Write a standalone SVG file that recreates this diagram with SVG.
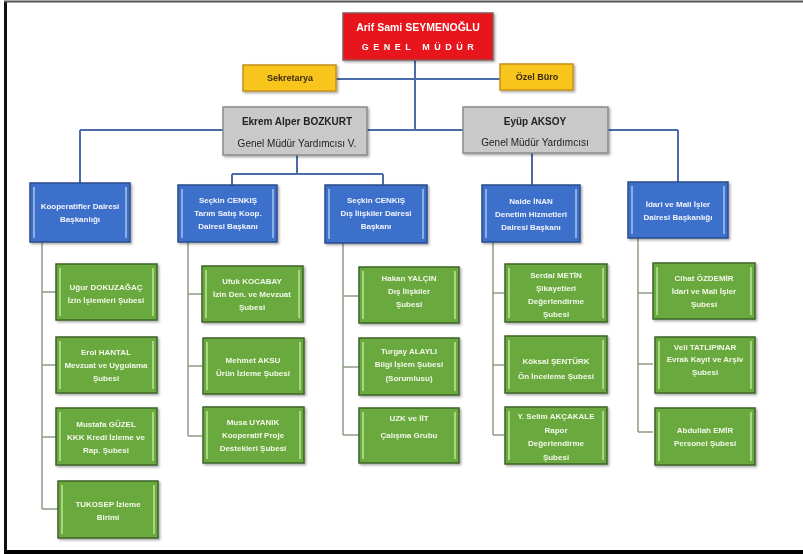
<svg xmlns="http://www.w3.org/2000/svg" width="803" height="554" viewBox="0 0 803 554">
<style>
text{font-family:"Liberation Sans",Arial,sans-serif;text-anchor:middle;dominant-baseline:central}
.g rect.b{fill:#69a93c;stroke:#3f6329;stroke-width:1.5}
.g line{stroke:#bfe69a;stroke-width:1.5}
.g text{fill:#f3f8ea;font-size:8px;font-weight:bold}
.bl rect.b{fill:#3e6fcb;stroke:#2b4d8c;stroke-width:1.5}
.bl line{stroke:#a9c3ee;stroke-width:1.5}
.bl text{fill:#f2f5fb;font-size:8px;font-weight:bold}
.y rect{fill:#f7c51c;stroke:#c8901a;stroke-width:1.5}
.y text{fill:#3a2a10;font-size:9px;font-weight:bold}
.gr rect{fill:#c9c9c9;stroke:#8a8a8a;stroke-width:1.5}
.gr text{fill:#222;font-size:10px}
.top{stroke:#4a6cab;stroke-width:2;fill:none}
.sub{stroke:#8f9c84;stroke-width:1.5;fill:none}
</style>
<defs>
<filter id="sh" x="-10%" y="-10%" width="130%" height="130%">
<feDropShadow dx="1.5" dy="1.5" stdDeviation="1" flood-color="#000" flood-opacity="0.35"/>
</filter>
</defs>
<rect x="0" y="0" width="803" height="554" fill="#fff"/>
<line x1="5.5" y1="1" x2="5.5" y2="554" stroke="#111" stroke-width="3"/>
<line x1="4" y1="1.5" x2="803" y2="1.5" stroke="#555" stroke-width="2"/>
<line x1="4" y1="552" x2="803" y2="552" stroke="#000" stroke-width="4"/>

<g id="connectors">
<path class="top" d="M415 60V130M336 79H500M80 130H678M80 130V183M678 130V182M297 155V174M232 174H383M232 174V185M383 174V185M532 153V185"/>
<path class="sub" d="M42 242V509M42 292H56M42 365H56M42 437H56M42 509H58"/>
<path class="sub" d="M188 242V436M188 294H202M188 366H202M188 436H202"/>
<path class="sub" d="M343 243V435M343 296H359M343 367H359M343 435H359"/>
<path class="sub" d="M493 242V435M493 293H505M493 365H505M493 435H505"/>
<path class="sub" d="M638 238V432M638 293H653M638 364H653M638 432H653"/>
</g>

<g id="genel-mudur" filter="url(#sh)">
<rect x="343" y="13" width="150" height="47" fill="#e8121a" stroke="#8a5a5a" stroke-width="1.5"/>
<text x="418" y="27" fill="#fff" font-size="10.5" font-weight="bold">Arif Sami SEYMENOĞLU</text>
<text x="420" y="47" fill="#fff" font-size="9" font-weight="bold" letter-spacing="4.5">GENEL MÜDÜR</text>
</g>
<g id="sekretarya" class="y" filter="url(#sh)">
<rect x="243" y="65" width="93" height="26"/>
<text x="290" y="78">Sekretarya</text>
</g>
<g id="ozel-buro" class="y" filter="url(#sh)">
<rect x="500" y="64" width="73" height="26"/>
<text x="537" y="77">Özel Büro</text>
</g>
<g id="ekrem" class="gr" filter="url(#sh)">
<rect x="223" y="107" width="144" height="48"/>
<text x="297" y="121" font-weight="bold">Ekrem Alper BOZKURT</text>
<text x="297" y="143">Genel Müdür Yardımcısı V.</text>
</g>
<g id="eyup" class="gr" filter="url(#sh)">
<rect x="463" y="107" width="145" height="46"/>
<text x="535" y="121" font-weight="bold">Eyüp AKSOY</text>
<text x="535" y="142">Genel Müdür Yardımcısı</text>
</g>

<g id="kooperatifler" class="bl" filter="url(#sh)">
<rect class="b" x="30" y="183" width="100" height="59"/>
<line x1="34" y1="187" x2="34" y2="238"/><line x1="126" y1="187" x2="126" y2="238"/>
<text x="80" y="206">Kooperatifler Dairesi</text>
<text x="80" y="219">Başkanlığı</text>
</g>
<g id="tarim-satis" class="bl" filter="url(#sh)">
<rect class="b" x="178" y="185" width="99" height="57"/>
<line x1="182" y1="189" x2="182" y2="238"/><line x1="273" y1="189" x2="273" y2="238"/>
<text x="228" y="200">Seçkin CENKIŞ</text>
<text x="228" y="213">Tarım Satış Koop.</text>
<text x="228" y="226">Dairesi Başkanı</text>
</g>
<g id="dis-iliskiler" class="bl" filter="url(#sh)">
<rect class="b" x="325" y="185" width="102" height="58"/>
<line x1="329" y1="189" x2="329" y2="239"/><line x1="423" y1="189" x2="423" y2="239"/>
<text x="376" y="200">Seçkin CENKIŞ</text>
<text x="376" y="213">Dış İlişkiler  Dairesi</text>
<text x="376" y="226">Başkanı</text>
</g>
<g id="denetim" class="bl" filter="url(#sh)">
<rect class="b" x="482" y="185" width="98" height="57"/>
<line x1="486" y1="189" x2="486" y2="238"/><line x1="576" y1="189" x2="576" y2="238"/>
<text x="531" y="201">Naide İNAN</text>
<text x="531" y="214">Denetim Hizmetleri</text>
<text x="531" y="227">Dairesi Başkanı</text>
</g>
<g id="idari-mali" class="bl" filter="url(#sh)">
<rect class="b" x="628" y="182" width="100" height="56"/>
<line x1="632" y1="186" x2="632" y2="234"/><line x1="724" y1="186" x2="724" y2="234"/>
<text x="678" y="204">İdari ve Mali İşler</text>
<text x="678" y="217">Dairesi Başkanlığı</text>
</g>

<g id="c1-izin" class="g" filter="url(#sh)">
<rect class="b" x="56" y="264" width="101" height="56"/>
<line x1="60" y1="268" x2="60" y2="316"/><line x1="153" y1="268" x2="153" y2="316"/>
<text x="106" y="287">Uğur DOKUZAĞAÇ</text>
<text x="106" y="300">İzin İşlemleri Şubesi</text>
</g>
<g id="c1-mevzuat" class="g" filter="url(#sh)">
<rect class="b" x="56" y="337" width="101" height="56"/>
<line x1="60" y1="341" x2="60" y2="389"/><line x1="153" y1="341" x2="153" y2="389"/>
<text x="106" y="352">Erol HANTAL</text>
<text x="106" y="365">Mevzuat ve Uygulama</text>
<text x="106" y="378">Şubesi</text>
</g>
<g id="c1-kkk" class="g" filter="url(#sh)">
<rect class="b" x="56" y="408" width="101" height="57"/>
<line x1="60" y1="412" x2="60" y2="461"/><line x1="153" y1="412" x2="153" y2="461"/>
<text x="106" y="424">Mustafa GÜZEL</text>
<text x="106" y="437">KKK Kredi İzleme ve</text>
<text x="106" y="450">Rap. Şubesi</text>
</g>
<g id="c1-tukosep" class="g" filter="url(#sh)">
<rect class="b" x="58" y="481" width="100" height="57"/>
<line x1="62" y1="485" x2="62" y2="534"/><line x1="154" y1="485" x2="154" y2="534"/>
<text x="108" y="504">TUKOSEP İzleme</text>
<text x="108" y="517">Birimi</text>
</g>

<g id="c2-izin-den" class="g" filter="url(#sh)">
<rect class="b" x="202" y="266" width="101" height="56"/>
<line x1="206" y1="270" x2="206" y2="318"/><line x1="299" y1="270" x2="299" y2="318"/>
<text x="252" y="281">Ufuk KOCABAY</text>
<text x="252" y="294">İzin Den. ve Mevzuat</text>
<text x="252" y="307">Şubesi</text>
</g>
<g id="c2-urun" class="g" filter="url(#sh)">
<rect class="b" x="203" y="338" width="101" height="56"/>
<line x1="207" y1="342" x2="207" y2="390"/><line x1="300" y1="342" x2="300" y2="390"/>
<text x="253" y="360">Mehmet AKSU</text>
<text x="253" y="373">Ürün İzleme Şubesi</text>
</g>
<g id="c2-proje" class="g" filter="url(#sh)">
<rect class="b" x="203" y="407" width="101" height="56"/>
<line x1="207" y1="411" x2="207" y2="459"/><line x1="300" y1="411" x2="300" y2="459"/>
<text x="253" y="422">Musa UYANIK</text>
<text x="253" y="435">Kooperatif Proje</text>
<text x="253" y="448">Destekleri Şubesi</text>
</g>

<g id="c3-dis" class="g" filter="url(#sh)">
<rect class="b" x="359" y="267" width="100" height="56"/>
<line x1="363" y1="271" x2="363" y2="319"/><line x1="455" y1="271" x2="455" y2="319"/>
<text x="409" y="278">Hakan YALÇIN</text>
<text x="409" y="291">Dış İlişkiler</text>
<text x="409" y="304">Şubesi</text>
</g>
<g id="c3-bilgi" class="g" filter="url(#sh)">
<rect class="b" x="359" y="338" width="100" height="57"/>
<line x1="363" y1="342" x2="363" y2="391"/><line x1="455" y1="342" x2="455" y2="391"/>
<text x="409" y="351">Turgay ALAYLI</text>
<text x="409" y="364">Bilgi İşlem Şubesi</text>
<text x="409" y="378">(Sorumlusu)</text>
</g>
<g id="c3-uzk" class="g" filter="url(#sh)">
<rect class="b" x="359" y="408" width="100" height="55"/>
<line x1="363" y1="412" x2="363" y2="459"/><line x1="455" y1="412" x2="455" y2="459"/>
<text x="409" y="418">UZK ve İİT</text>
<text x="409" y="435">Çalışma Grubu</text>
</g>

<g id="c4-sikayet" class="g" filter="url(#sh)">
<rect class="b" x="505" y="264" width="102" height="58"/>
<line x1="509" y1="268" x2="509" y2="318"/><line x1="603" y1="268" x2="603" y2="318"/>
<text x="556" y="275">Serdal METİN</text>
<text x="556" y="288">Şikayetleri</text>
<text x="556" y="301">Değerlendirme</text>
<text x="556" y="314">Şubesi</text>
</g>
<g id="c4-on-inceleme" class="g" filter="url(#sh)">
<rect class="b" x="505" y="336" width="102" height="57"/>
<line x1="509" y1="340" x2="509" y2="389"/><line x1="603" y1="340" x2="603" y2="389"/>
<text x="556" y="361">Köksal ŞENTÜRK</text>
<text x="556" y="376">Ön İnceleme Şubesi</text>
</g>
<g id="c4-rapor" class="g" filter="url(#sh)">
<rect class="b" x="505" y="407" width="102" height="57"/>
<line x1="509" y1="411" x2="509" y2="460"/><line x1="603" y1="411" x2="603" y2="460"/>
<text x="556" y="416">Y. Selim  AKÇAKALE</text>
<text x="556" y="430">Rapor</text>
<text x="556" y="443">Değerlendirme</text>
<text x="556" y="457">Şubesi</text>
</g>

<g id="c5-idari" class="g" filter="url(#sh)">
<rect class="b" x="653" y="263" width="102" height="56"/>
<line x1="657" y1="267" x2="657" y2="315"/><line x1="751" y1="267" x2="751" y2="315"/>
<text x="704" y="278">Cihat ÖZDEMİR</text>
<text x="704" y="291">İdari ve Mali İşler</text>
<text x="704" y="304">Şubesi</text>
</g>
<g id="c5-evrak" class="g" filter="url(#sh)">
<rect class="b" x="655" y="337" width="100" height="56"/>
<line x1="659" y1="341" x2="659" y2="389"/><line x1="751" y1="341" x2="751" y2="389"/>
<text x="705" y="347">Veli TATLIPINAR</text>
<text x="705" y="359">Evrak Kayıt ve Arşiv</text>
<text x="705" y="372">Şubesi</text>
</g>
<g id="c5-personel" class="g" filter="url(#sh)">
<rect class="b" x="655" y="408" width="100" height="57"/>
<line x1="659" y1="412" x2="659" y2="461"/><line x1="751" y1="412" x2="751" y2="461"/>
<text x="705" y="430">Abdullah EMİR</text>
<text x="705" y="443">Personel Şubesi</text>
</g>
</svg>
